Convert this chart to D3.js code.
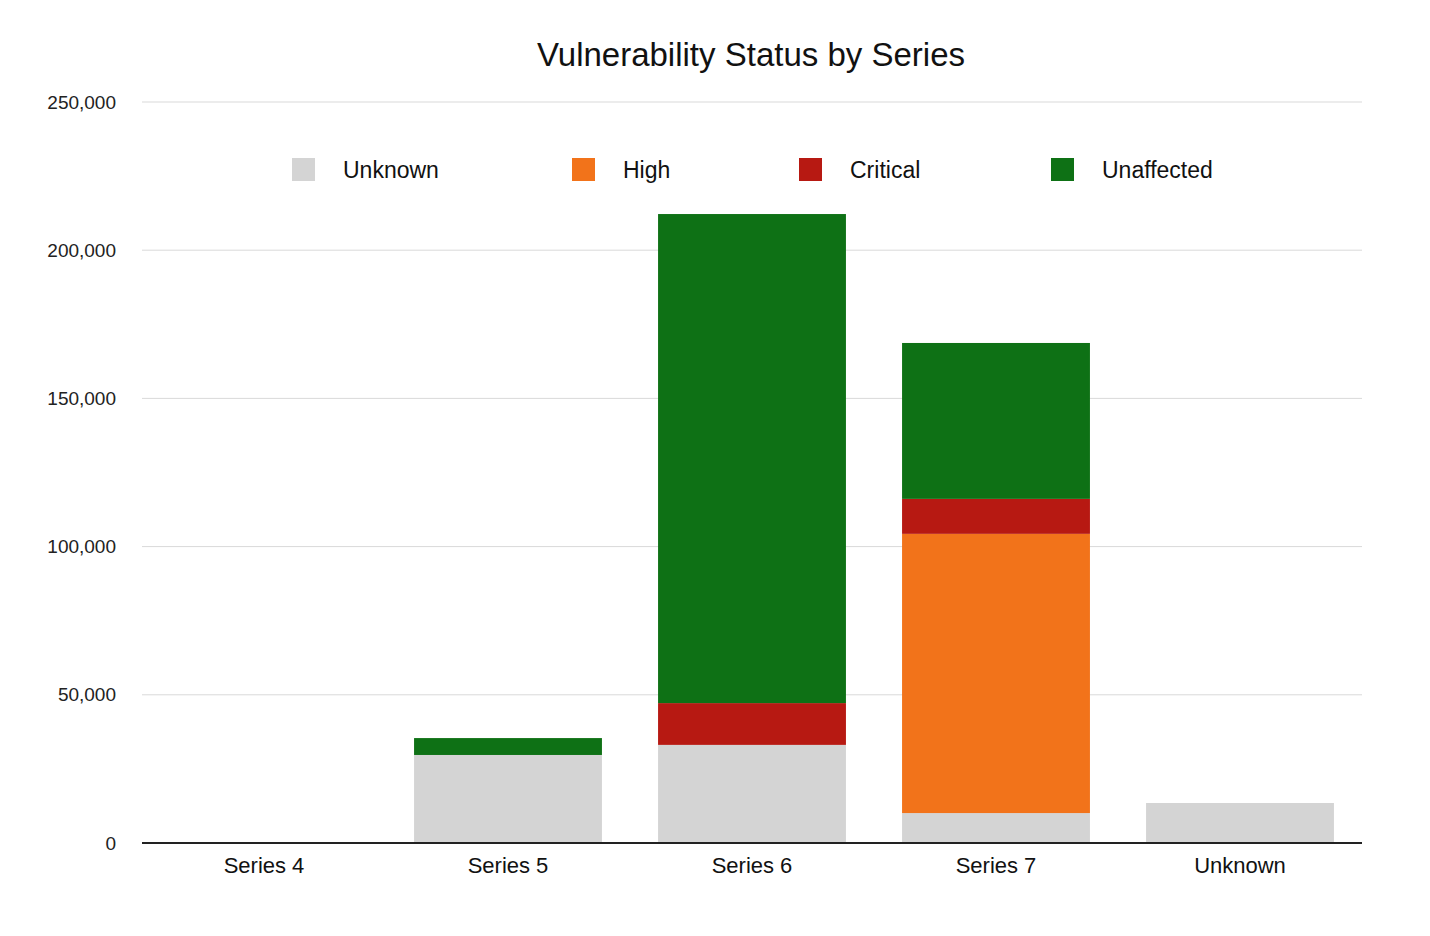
<!DOCTYPE html>
<html>
<head>
<meta charset="utf-8">
<script src="https://cdn.jsdelivr.net/npm/d3@7"></script>
<style>
  body { margin: 0; background: #fff; }
  text { font-family: "Liberation Sans", Arial, sans-serif; }
</style>
</head>
<body>
<svg id="chart" width="1430" height="936"></svg>
<script>
// ── Data ──
const categories = ['Series 4', 'Series 5', 'Series 6', 'Series 7', 'Unknown'];
const seriesNames = ['Unknown', 'High', 'Critical', 'Unaffected'];
const unknownVals = [0, 29700, 33100, 10100, 13500];
const highVals = [0, 0, 0, 94200, 0];
const criticalVals = [0, 0, 14100, 11800, 0];
const unaffectedVals = [0, 5700, 165000, 52600, 0];
const yTicks = [0, 50000, 100000, 150000, 200000, 250000];

const COLORS = {
  Unknown: '#d4d4d4',
  High: '#f2731a',
  Critical: '#b71912',
  Unaffected: '#0e7115',
};

const rows = categories.map((c, i) => ({
  cat: c,
  Unknown: unknownVals[i],
  High: highVals[i],
  Critical: criticalVals[i],
  Unaffected: unaffectedVals[i],
}));

const svg = d3.select('#chart');
const margin = { left: 142, right: 68, top: 102, bottom: 93 };
const W = 1430, H = 936;

const x = d3.scaleBand()
  .domain(categories)
  .range([margin.left, W - margin.right])
  .paddingInner(0.23)
  .paddingOuter(0.115);

const y = d3.scaleLinear()
  .domain([0, 250000])
  .range([H - margin.bottom, margin.top]);

// Grid lines
svg.append('g')
  .selectAll('line')
  .data(yTicks.slice(1))
  .join('line')
  .attr('x1', margin.left)
  .attr('x2', W - margin.right)
  .attr('y1', d => y(d))
  .attr('y2', d => y(d))
  .attr('stroke', '#d9d9d9')
  .attr('stroke-width', 1);

// Y axis labels
const yAxis = svg.append('g')
  .attr('transform', `translate(${margin.left - 23},0)`)
  .call(d3.axisLeft(y).tickValues(yTicks).tickSize(0).tickFormat(d3.format(',')));
yAxis.select('.domain').remove();
yAxis.selectAll('text')
  .attr('font-size', '19px')
  .attr('fill', '#222')
  .attr('font-family', '"Liberation Sans", Arial, sans-serif');

// Stacked bars
const stack = d3.stack().keys(seriesNames)(rows);
svg.append('g')
  .selectAll('g')
  .data(stack)
  .join('g')
  .attr('fill', d => COLORS[d.key])
  .selectAll('rect')
  .data(d => d)
  .join('rect')
  .attr('x', d => x(d.data.cat))
  .attr('width', x.bandwidth())
  .attr('y', d => y(d[1]))
  .attr('height', d => y(d[0]) - y(d[1]));

// X baseline and labels
const xAxis = svg.append('g')
  .attr('transform', `translate(0,${H - margin.bottom})`)
  .call(d3.axisBottom(x).tickSize(0).tickPadding(14));
xAxis.select('.domain')
  .attr('stroke', '#222')
  .attr('stroke-width', 2)
  .attr('d', `M${margin.left},0H${W - margin.right}`);
xAxis.selectAll('text')
  .attr('font-size', '22px')
  .attr('fill', '#111')
  .attr('font-family', '"Liberation Sans", Arial, sans-serif');

// Title
svg.append('text')
  .attr('x', 751)
  .attr('y', 66)
  .attr('text-anchor', 'middle')
  .attr('font-size', '33px')
  .attr('fill', '#111')
  .text('Vulnerability Status by Series');

// Legend
const legendX = [292, 572, 799, 1051];
const legend = svg.append('g');
seriesNames.forEach((name, i) => {
  const row = legend.append('g').attr('transform', `translate(${legendX[i]},158)`);
  row.append('rect')
    .attr('width', 23)
    .attr('height', 23)
    .attr('fill', COLORS[name]);
  row.append('text')
    .attr('x', 51)
    .attr('y', 20)
    .attr('font-size', '23px')
    .attr('fill', '#111')
    .text(name);
});
</script>
</body>
</html>
